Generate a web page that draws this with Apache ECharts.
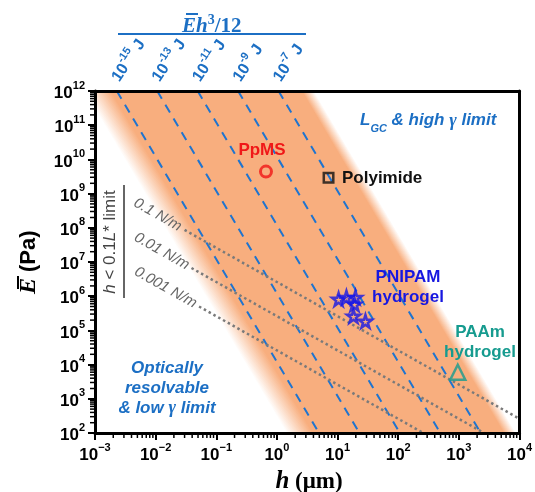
<!DOCTYPE html>
<html>
<head>
<meta charset="utf-8">
<script src="https://cdn.jsdelivr.net/npm/echarts@6/dist/echarts.min.js"></script>
<style>
  html, body { margin: 0; padding: 0; background: #fff; }
  #main { width: 535px; height: 492px; }
</style>
</head>
<body>
<div id="main"></div>
<script>
// axis ranges, h in um and E in Pa
const hRange = [1e-3, 1e4];
const eRange = [1e2, 1e12];

// bending energy lines, E h^3 / 12 = const (J)
const energiesJ = [1e-15, 1e-13, 1e-11, 1e-9, 1e-7];
const energyExp = ['-15', '-13', '-11', '-9', '-7'];

// orange band, in J: fade start, solid start, solid end, fade end
const bandJ = [10 ** -16.6, 10 ** -15.3, 10 ** -5.85, 10 ** -5.25];

// surface tension lines
const tensionsNm = [0.1, 0.01, 0.001];
const tensionLabels = ['0.1 N/m', '0.01 N/m', '0.001 N/m'];
const tensionLabelH = [0.0108, 0.0126, 0.0146];
const tensionStartH = [0.030, 0.039, 0.052];
const tensionCoef = 26; // E = coef * gamma / h

// materials [h (um), E (Pa)]
const ppms = [[0.66, 4.4e9]];
const polyimide = [[7.1, 2.9e9]];
const pnipam = [[10.4, 8.1e5], [14, 9.2e5], [19.7, 9.2e5], [19, 5.8e5], [18.3, 2.6e5], [28.8, 1.85e5]];
const paam = [[960, 6e3]];

const SANS = "'Liberation Sans', Arial, sans-serif";
const SERIF = "'Liberation Serif', 'Times New Roman', serif";
const BLUE = '#1c6fc4';
const DASH = '#1f74cf';
const GREY = '#7a7a7a';
const ORANGE = [248, 174, 126];

function energyH(C, E) { return Math.cbrt(12 * C / E) * 1e6; }
function tensionE(g, h) { return tensionCoef * g / (h * 1e-6); }

const chart = echarts.init(document.getElementById('main'));

const tickRich = {
    b: { fontSize: 17, fontWeight: 'bold', fontFamily: SANS, color: '#000', lineHeight: 22, verticalAlign: 'bottom' },
    s: { fontSize: 11, fontWeight: 'bold', fontFamily: SANS, color: '#000', lineHeight: 10, verticalAlign: 'top' }
};
function expLabel(v) {
    const e = Math.round(Math.log10(v));
    return '{b|10}{s|' + (e < 0 ? '\u2212' + (-e) : e) + '}';
}

const star = 'path://M50,0 L61,35 L98,35 L68,57 L79,91 L50,70 L21,91 L32,57 L2,35 L39,35 Z';

var option = {
    animation: false,
    grid: { left: 95, right: 13, top: 91, bottom: 59 },
    xAxis: [
        {
            type: 'log', logBase: 10, min: hRange[0], max: hRange[1], splitNumber: 7, z: 10,
            axisLine: { show: true, lineStyle: { color: '#000', width: 3 } },
            axisTick: { show: true, length: 7, lineStyle: { color: '#000', width: 2 } },
            splitLine: { show: false },
            minorTick: { show: false },
            axisLabel: { margin: 9, formatter: expLabel, rich: tickRich }
        },
        {
            type: 'log', logBase: 10, min: hRange[0], max: hRange[1], position: 'top', z: 10,
            axisLine: { show: true, lineStyle: { color: '#000', width: 3 } },
            axisTick: { show: false }, axisLabel: { show: false }, splitLine: { show: false }
        }
    ],
    yAxis: [
        {
            type: 'log', logBase: 10, min: eRange[0], max: eRange[1], splitNumber: 10, z: 10,
            axisLine: { show: true, lineStyle: { color: '#000', width: 3 } },
            axisTick: { show: true, length: 7, lineStyle: { color: '#000', width: 2 } },
            splitLine: { show: false },
            axisLabel: { margin: 10, formatter: expLabel, rich: tickRich }
        },
        {
            type: 'log', logBase: 10, min: eRange[0], max: eRange[1], position: 'right', z: 10,
            axisLine: { show: true, lineStyle: { color: '#000', width: 3 } },
            axisTick: { show: false }, axisLabel: { show: false }, splitLine: { show: false }
        }
    ],
    series: [
        // orange band with soft edges
        {
            type: 'custom', z: 1, silent: true, clip: true,
            data: [[1, 1e6]],
            renderItem: function (params, api) {
                const eTop = eRange[1], eBot = eRange[0];
                const pt = C => api.coord([energyH(C, eTop), eTop]);
                const pb = C => api.coord([energyH(C, eBot), eBot]);
                const a = pt(bandJ[0]), b = pt(bandJ[3]), c = pb(bandJ[3]), d = pb(bandJ[0]);
                const dx = d[0] - a[0], dy = d[1] - a[1], len = Math.hypot(dx, dy);
                const nx = dy / len, ny = -dx / len;
                const proj = p => (p[0] - a[0]) * nx + (p[1] - a[1]) * ny;
                const total = proj(b);
                const stops = bandJ.map((C, i) => ({
                    offset: proj(pt(C)) / total,
                    color: 'rgba(' + ORANGE.join(',') + ',' + (i === 0 || i === 3 ? 0 : 1) + ')'
                }));
                const grad = new echarts.graphic.LinearGradient(a[0], a[1], a[0] + nx * total, a[1] + ny * total, stops, true);
                return { type: 'polygon', shape: { points: [a, b, c, d] }, style: { fill: grad } };
            }
        },
        // constant bending energy lines
        ...energiesJ.map(C => ({
            type: 'line', z: 3, silent: true, symbol: 'none',
            data: [[energyH(C, eRange[1]), eRange[1]], [energyH(C, eRange[0]), eRange[0]]],
            lineStyle: { color: DASH, width: 2, type: [9, 7] }
        })),
        // surface tension lines
        ...tensionsNm.map((g, i) => ({
            type: 'line', z: 4, silent: true, symbol: 'none',
            data: [[tensionStartH[i], tensionE(g, tensionStartH[i])], [hRange[1], tensionE(g, hRange[1])]],
            lineStyle: { color: GREY, width: 2.5, type: [2.5, 3] }
        })),
        // tension labels along the lines
        {
            type: 'custom', z: 5, silent: true, clip: false,
            data: tensionsNm.map((g, i) => [tensionLabelH[i], tensionE(g, tensionLabelH[i]), i]),
            renderItem: function (params, api) {
                const h = api.value(0), E = api.value(1), i = api.value(2);
                const p = api.coord([h, E]);
                const q = api.coord([h * 10, E / 10]);
                const ang = Math.atan2(q[1] - p[1], q[0] - p[0]);
                return {
                    type: 'text', x: p[0], y: p[1], rotation: -ang,
                    style: {
                        text: tensionLabels[i], fill: '#666', fontSize: 15, fontStyle: 'italic',
                        fontFamily: SANS, align: 'center', verticalAlign: 'middle'
                    }
                };
            }
        },
        // energy labels above the plot
        {
            type: 'custom', z: 5, silent: true, clip: false,
            data: energiesJ.map((C, i) => [energyH(C, eRange[1]), eRange[1], i]),
            renderItem: function (params, api) {
                const p = api.coord([api.value(0), api.value(1)]);
                const i = api.value(2);
                return {
                    type: 'text', x: p[0] - 3, y: p[1] - 12, rotation: Math.PI * 56 / 180,
                    style: {
                        text: '{b|10}{s|' + energyExp[i] + '}{b| J}', align: 'left', verticalAlign: 'middle',
                        rich: {
                            b: { fontSize: 16, fontWeight: 'bold', fontFamily: SANS, fill: BLUE, lineHeight: 20, verticalAlign: 'bottom' },
                            s: { fontSize: 11, fontWeight: 'bold', fontFamily: SANS, fill: BLUE, lineHeight: 10, verticalAlign: 'top' }
                        }
                    }
                };
            }
        },
        // log minor ticks
        {
            type: 'custom', z: 10, silent: true, clip: false,
            data: [[1, 1e6]],
            renderItem: function (params, api) {
                const children = [];
                const st = { stroke: '#000', lineWidth: 1.5 };
                for (let k = -3; k < 4; k++) {
                    for (let m = 2; m <= 9; m++) {
                        const p = api.coord([m * 10 ** k, eRange[0]]);
                        children.push({ type: 'line', shape: { x1: p[0], y1: p[1], x2: p[0], y2: p[1] + 5 }, style: st });
                    }
                }
                for (let k = 2; k < 12; k++) {
                    for (let m = 2; m <= 9; m++) {
                        const p = api.coord([hRange[0], m * 10 ** k]);
                        children.push({ type: 'line', shape: { x1: p[0] - 5, y1: p[1], x2: p[0], y2: p[1] }, style: st });
                    }
                }
                return { type: 'group', children: children };
            }
        },
        {
            type: 'scatter', z: 6, silent: true, data: ppms, symbol: 'circle', symbolSize: 11,
            itemStyle: { color: 'rgba(0,0,0,0)', borderColor: '#f01616', borderWidth: 3 }
        },
        {
            type: 'scatter', z: 6, silent: true, data: polyimide, symbol: 'rect', symbolSize: 9.5,
            itemStyle: { color: 'rgba(0,0,0,0)', borderColor: '#111', borderWidth: 2.5 }
        },
        {
            type: 'scatter', z: 6, silent: true, data: pnipam, symbol: star, symbolSize: 13,
            itemStyle: { color: 'rgba(0,0,0,0)', borderColor: '#1717e6', borderWidth: 2.5 }
        },
        {
            type: 'scatter', z: 6, silent: true, data: paam, symbol: 'triangle', symbolSize: 15,
            itemStyle: { color: 'rgba(0,0,0,0)', borderColor: '#169b8f', borderWidth: 2.5 }
        }
    ],
    graphic: [
        // top energy title
        {
            type: 'text', x: 182, y: 25, z: 100,
            style: {
                text: '{e|E}{e|h}{s|3}{n|/12}', align: 'left', verticalAlign: 'middle',
                rich: {
                    e: { fontSize: 21, fontStyle: 'italic', fontWeight: 'bold', fontFamily: SERIF, fill: BLUE, lineHeight: 24, verticalAlign: 'bottom' },
                    s: { fontSize: 14, fontWeight: 'bold', fontFamily: SERIF, fill: BLUE, lineHeight: 12, verticalAlign: 'top' },
                    n: { fontSize: 21, fontWeight: 'bold', fontFamily: SERIF, fill: BLUE, lineHeight: 24, verticalAlign: 'bottom' }
                }
            }
        },
        { type: 'line', z: 100, shape: { x1: 186, y1: 14, x2: 198, y2: 14 }, style: { stroke: BLUE, lineWidth: 2 } },
        { type: 'line', z: 100, shape: { x1: 118, y1: 34, x2: 306, y2: 34 }, style: { stroke: BLUE, lineWidth: 2 } },
        // h < 0.1 L* limit
        {
            type: 'text', x: 110, y: 242, rotation: Math.PI / 2, z: 100,
            style: {
                text: '{i|h}{n| < 0.1}{i|L}{n|* limit}', align: 'center', verticalAlign: 'middle',
                rich: {
                    i: { fontSize: 17, fontStyle: 'italic', fontFamily: SANS, fill: '#444' },
                    n: { fontSize: 17, fontFamily: SANS, fill: '#444' }
                }
            }
        },
        { type: 'line', z: 100, shape: { x1: 124, y1: 185, x2: 124, y2: 298 }, style: { stroke: '#666', lineWidth: 2 } },
        // y axis name
        {
            type: 'group', x: 29, y: 260, rotation: Math.PI / 2, z: 100,
            children: [
                { type: 'text', x: -34, y: 0, style: { text: 'E', fontSize: 24, fontStyle: 'italic', fontWeight: 'bold', fontFamily: SERIF, fill: '#000', align: 'left', verticalAlign: 'middle' } },
                { type: 'line', shape: { x1: -29, y1: -11, x2: -16, y2: -11 }, style: { stroke: '#000', lineWidth: 2 } },
                { type: 'text', x: -12, y: 0, style: { text: '(Pa)', fontSize: 22, fontWeight: 'bold', fontFamily: SANS, fill: '#000', align: 'left', verticalAlign: 'middle' } }
            ]
        },
        // x axis name
        {
            type: 'text', x: 309, y: 482, z: 100,
            style: {
                text: '{i|h}{n| (\u03bcm)}', align: 'center', verticalAlign: 'middle',
                rich: {
                    i: { fontSize: 25, fontStyle: 'italic', fontWeight: 'bold', fontFamily: SERIF, fill: '#000' },
                    n: { fontSize: 23, fontWeight: 'bold', fontFamily: SERIF, fill: '#000' }
                }
            }
        },
        // region annotations
        {
            type: 'text', x: 360, y: 123, z: 100,
            style: {
                text: '{l|L}{g|GC}{t| & high }{y|\u03b3}{t| limit}', align: 'left', verticalAlign: 'middle',
                rich: {
                    l: { fontSize: 17, fontStyle: 'italic', fontWeight: 'bold', fontFamily: SANS, fill: BLUE, lineHeight: 22, verticalAlign: 'top' },
                    g: { fontSize: 11, fontStyle: 'italic', fontWeight: 'bold', fontFamily: SANS, fill: BLUE, lineHeight: 14, verticalAlign: 'bottom' },
                    t: { fontSize: 17, fontStyle: 'italic', fontWeight: 'bold', fontFamily: SANS, fill: BLUE, lineHeight: 22, verticalAlign: 'top' },
                    y: { fontSize: 18, fontStyle: 'italic', fontWeight: 'bold', fontFamily: SERIF, fill: BLUE, lineHeight: 22, verticalAlign: 'top' }
                }
            }
        },
        {
            type: 'text', x: 167, y: 388, z: 100,
            style: {
                text: '{t|Optically}\n{t|resolvable}\n{t|& low }{y|\u03b3}{t| limit}', align: 'center', verticalAlign: 'middle',
                rich: {
                    t: { fontSize: 17, fontStyle: 'italic', fontWeight: 'bold', fontFamily: SANS, fill: BLUE, lineHeight: 20 },
                    y: { fontSize: 18, fontStyle: 'italic', fontWeight: 'bold', fontFamily: SERIF, fill: BLUE, lineHeight: 20 }
                }
            }
        },
        // material labels
        {
            type: 'text', x: 262, y: 150, z: 100,
            style: { text: 'PpMS', fontSize: 17, fontWeight: 'bold', fontFamily: SANS, fill: '#f01818', align: 'center', verticalAlign: 'middle' }
        },
        {
            type: 'text', x: 342, y: 178, z: 100,
            style: { text: 'Polyimide', fontSize: 17, fontWeight: 'bold', fontFamily: SANS, fill: '#111', align: 'left', verticalAlign: 'middle' }
        },
        {
            type: 'text', x: 408, y: 287, z: 100,
            style: { text: 'PNIPAM\nhydrogel', fontSize: 17, fontWeight: 'bold', fontFamily: SANS, fill: '#1717e0', align: 'center', verticalAlign: 'middle', lineHeight: 20 }
        },
        {
            type: 'text', x: 480, y: 342, z: 100,
            style: { text: 'PAAm\nhydrogel', fontSize: 17, fontWeight: 'bold', fontFamily: SANS, fill: '#169b8f', align: 'center', verticalAlign: 'middle', lineHeight: 20 }
        }
    ]
};

option && chart.setOption(option);
</script>
</body>
</html>
